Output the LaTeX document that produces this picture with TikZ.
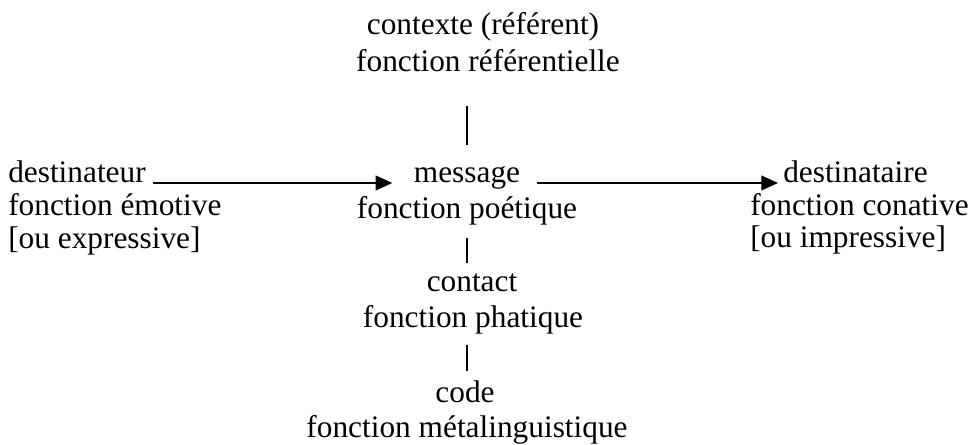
\documentclass[tikz,border=0pt]{standalone}
\usepackage{fontspec}
\setmainfont{Liberation Serif}
\usetikzlibrary{arrows.meta}

\begin{document}
\begin{tikzpicture}[x=0.75pt,y=0.75pt,yscale=-1,xscale=1,
		every node/.style={inner sep=0pt, font=\fontsize{23.5}{26}\selectfont},
		fleche/.style={line width=1.5pt, -{Triangle[length=12.5pt,width=11pt]}},
		trait/.style={line width=0.9pt}]
		%set diagram size 976 x 445
		\useasboundingbox (0,0) rectangle (976,445);
		
		% Text Node (haut)
		\draw (483,35) node (ctx) [anchor=base] {contexte (référent)};
		\draw (488,72) node (ref) [anchor=base] {fonction référentielle};
		% Text Node (gauche)
		\draw (8,183) node (dest) [anchor=base west] {destinateur};
		\draw (8,216) node (emo) [anchor=base west] {fonction émotive};
		\draw (8,249) node (expr) [anchor=base west] {[ou expressive]};
		% Text Node (milieu)
		\draw (467,183) node (msg) [anchor=base] {message};
		\draw (467,219) node (poe) [anchor=base] {fonction poétique};
		% Text Node (droite)
		\draw (783,183) node (dtaire) [anchor=base west] {destinataire};
		\draw (750,216) node (con) [anchor=base west] {fonction conative};
		\draw (750,248) node (impr) [anchor=base west] {[ou impressive]};
		% Text Node (bas)
		\draw (472,292) node (cont) [anchor=base] {contact};
		\draw (473,328) node (pha) [anchor=base] {fonction phatique};
		\draw (465,403) node (code) [anchor=base] {code};
		\draw (467,438) node (meta) [anchor=base] {fonction métalinguistique};
		
		%Straight Lines
		\draw [fleche, shorten <=5pt, shorten >=16pt] (dest.base east) -- (msg.base west);
		\draw [fleche, shorten <=12.5pt, shorten >=3.75pt] (msg.base east) -- (dtaire.base west);
		%Straight Lines
		\draw [trait, shorten <=25pt, shorten >=16pt] (ref.south -| msg.north) -- (msg.north);
		\draw [trait, shorten <=9pt, shorten >=8.25pt] (poe.south -| msg) -- (cont.north -| msg);
		\draw [trait, shorten <=7.5pt, shorten >=7.25pt] (pha.south -| msg) -- (code.north -| msg);
	\end{tikzpicture}
\end{document}
